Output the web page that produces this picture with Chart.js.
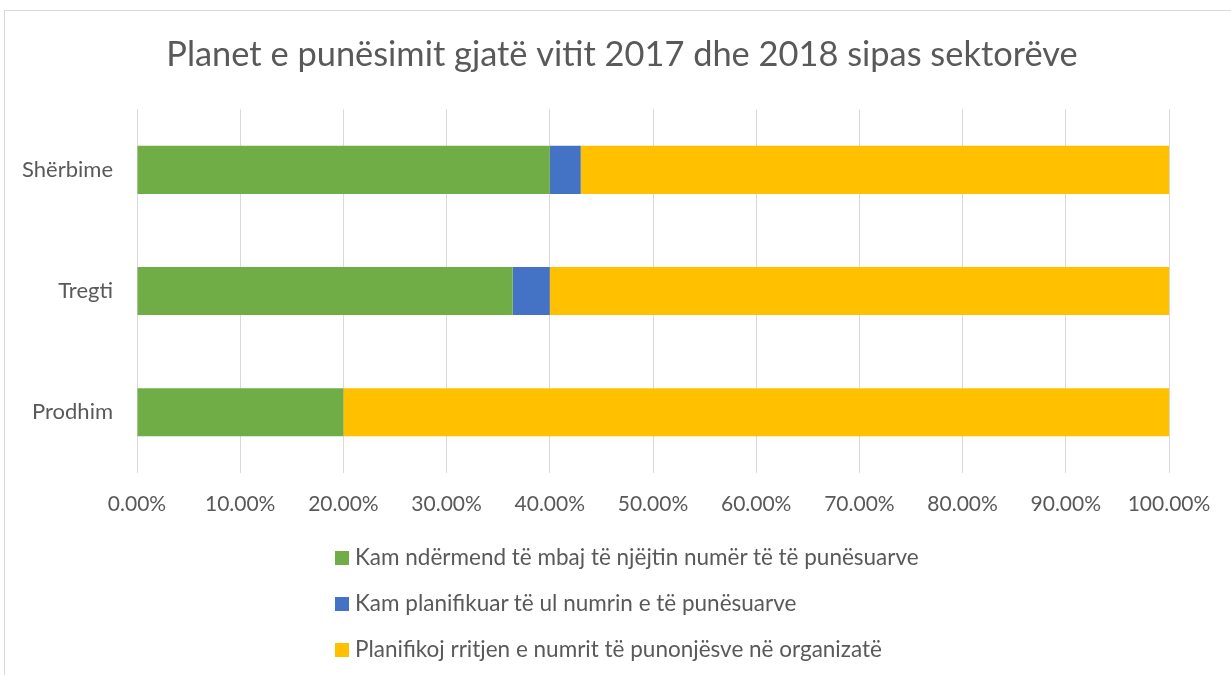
<!DOCTYPE html>
<html>
<head>
<meta charset="utf-8">
<script src="https://cdn.jsdelivr.net/npm/chart.js@4"></script>
<style>
  html, body { margin: 0; padding: 0; background: #fff; }
  #wrap { position: relative; width: 1231px; height: 675px; overflow: hidden; }
  #frame { position: absolute; left: 4px; top: 10px; width: 1240px; height: 700px; border: 1px solid #d9d9d9; box-sizing: border-box; }
  #chart { position: absolute; left: 0; top: 0; }
  #legend { position: absolute; left: 335px; top: 543px; font-family: Lato, sans-serif; font-size: 22.5px; color: #595959; }
  #legend div { height: 46px; display: flex; align-items: flex-start; }
  #legend span.box { display: inline-block; width: 14px; height: 14px; margin: 8px 6px 0 0; }
</style>
</head>
<body>
<div id="wrap">
  <div id="frame"></div>
  <canvas id="chart" width="1231" height="675"></canvas>
  <div id="legend"></div>
</div>
<script>
// sectors, top to bottom
const categories = ['Shërbime', 'Tregti', 'Prodhim'];

// shares in percent
const keepSame = [40.0, 36.4, 20.0];
const reduceStaff = [3.0, 3.6, 0.0];
const growStaff = [57.0, 60.0, 80.0];

const seriesNames = [
    'Kam ndërmend të mbaj të njëjtin numër të të punësuarve',
    'Kam planifikuar të ul numrin e të punësuarve',
    'Planifikoj rritjen e numrit të punonjësve në organizatë'
];
const seriesColors = ['#70AD47', '#4472C4', '#FFC000'];

const titleText = 'Planet e punësimit gjatë vitit 2017 dhe 2018 sipas sektorëve';
const textColor = '#595959';
const fontFamily = 'Lato, sans-serif';

const ctx = document.getElementById('chart');
const chart = new Chart(ctx, {
    type: 'bar',
    data: {
        labels: categories,
        datasets: [keepSame, reduceStaff, growStaff].map((d, i) => ({
            label: seriesNames[i],
            data: d,
            backgroundColor: seriesColors[i],
            borderWidth: 0,
            categoryPercentage: 1,
            barPercentage: 0.397
        }))
    },
    options: {
        indexAxis: 'y',
        responsive: false,
        animation: false,
        layout: { padding: { top: 12, left: 13, right: 0, bottom: 139 } },
        plugins: {
            legend: { display: false },
            tooltip: { enabled: false },
            title: {
                display: true,
                text: titleText,
                color: textColor,
                font: { family: fontFamily, size: 34.4, weight: 'normal' },
                padding: { top: 22, bottom: 34 }
            }
        },
        scales: {
            x: {
                stacked: true,
                min: 0,
                max: 100,
                grid: { color: '#d9d9d9', drawTicks: false, lineWidth: 1 },
                border: { display: false },
                ticks: {
                    stepSize: 10,
                    padding: 19,
                    color: textColor,
                    font: { family: fontFamily, size: 21 },
                    callback: v => v.toFixed(2) + '%'
                }
            },
            y: {
                stacked: true,
                grid: { display: false, drawTicks: false },
                border: { display: false },
                afterFit: scale => { scale.width = 124; },
                ticks: {
                    padding: 24,
                    color: textColor,
                    font: { family: fontFamily, size: 22 }
                }
            },
            // empty axis on the right, only reserves the right margin
            yRight: {
                type: 'category',
                position: 'right',
                grid: { display: false, drawTicks: false },
                border: { display: false },
                ticks: { display: false },
                afterFit: scale => { scale.width = 62; }
            }
        }
    }
});

// legend as html, one item per row
const legendEl = document.getElementById('legend');
chart.data.datasets.forEach(ds => {
    const row = document.createElement('div');
    const box = document.createElement('span');
    box.className = 'box';
    box.style.background = ds.backgroundColor;
    const txt = document.createElement('span');
    txt.textContent = ds.label;
    row.appendChild(box);
    row.appendChild(txt);
    legendEl.appendChild(row);
});
</script>
</body>
</html>
